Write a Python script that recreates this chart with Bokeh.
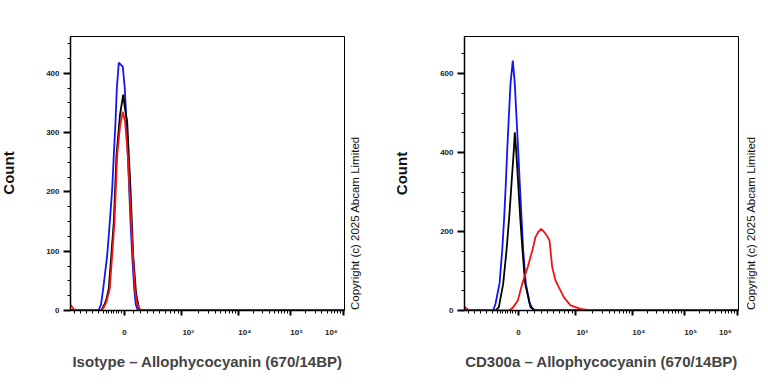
import math
from bokeh.plotting import figure
from bokeh.models import FixedTicker, Range1d
from bokeh.layouts import row
from bokeh.core.properties import value
from bokeh.embed import file_html
from bokeh.resources import INLINE

# ---- data: x in display channels of the biexponential axis, y = Count ----
iso_blue_x = [0, 28, 30.5, 32.7, 36.7, 39.3, 41.7, 43.3, 45, 46.3, 48.3, 50.5, 52.3, 54.3, 56, 57.3, 58.7, 60, 61.7, 63.7, 65.3, 67.5, 274]
iso_blue_y = [0, 0, 10, 37, 93, 149, 205, 262, 318, 374, 418, 414, 411, 374, 318, 262, 205, 149, 93, 37, 10, 0, 0]

iso_black_x = [0, 31, 33.3, 35.8, 38.3, 43.3, 46, 49.5, 52.7, 54.5, 56.7, 60, 62.7, 65.5, 68.3, 70, 274]
iso_black_y = [0, 0, 8, 18, 37, 149, 262, 330, 364, 340, 318, 205, 93, 30, 5, 0, 0]

iso_red_x = [0, 2, 4.5, 31, 33.3, 36, 39.3, 44, 46.7, 49.5, 52.3, 54.5, 57.3, 60.7, 64.3, 66.5, 70, 274]
iso_red_y = [9, 5, 0, 0, 5, 15, 37, 149, 262, 310, 335, 320, 262, 149, 37, 12, 0, 0]

cd_blue_x = [0, 28.7, 31, 35, 37.7, 39.7, 41.3, 42.7, 44.3, 46, 48.3, 50.3, 52, 53.7, 55.3, 57, 58.7, 61.3, 65.3, 69.3, 274]
cd_blue_y = [0, 0, 17, 68, 152, 236, 321, 405, 489, 574, 633, 574, 489, 405, 321, 236, 152, 68, 17, 0, 0]

cd_black_x = [0, 31, 34.3, 38.7, 42, 44.7, 47, 49.3, 50.3, 51.7, 53.7, 55.7, 58, 60.7, 66, 71, 274]
cd_black_y = [0, 0, 8, 68, 152, 236, 321, 405, 451, 405, 321, 236, 152, 68, 8, 0, 0]

cd_red_x = [0, 2, 4.5, 44, 48, 53.3, 57.7, 63.5, 68, 71, 74, 76.7, 80, 83, 85, 87.7, 91, 94.3, 99.3, 106, 116, 126, 274]
cd_red_y = [9, 5, 0, 0, 6, 25, 68, 112, 154, 186, 200, 207, 198, 187, 177, 110, 76, 59, 34, 13, 4, 0, 0]

# ---- axis definitions ----
x_major = [54, 111, 167.5, 219.5, 272.5]
x_tick_text = ["0", "10\u00b3", "10\u2074", "10\u2075", "10\u2076"]
x_minor_low = [4, 10, 16, 22, 28, 33, 35.5, 38, 40.5, 43, 45.5, 48, 50.5,
               63, 70, 77, 83, 89, 95, 100, 104, 107.5]
COPYRIGHT = "Copyright (c) 2025 Abcam Limited"
Y_TITLE = "Count"

BLUE = "#1414f0"
BLACK = "#000000"
RED = "#f01414"
FONT = "Liberation Sans"
NB = "\u00a0"
H = 384
TOP = 36
FRAME_H = 274


def x_minor_ticks():
    ticks = list(x_minor_low)
    for a, b in zip(x_major[1:-1], x_major[2:]):
        for k in range(2, 10):
            ticks.append(a + (b - a) * math.log10(k))
    return ticks


def x_overrides():
    pads = [(0, 0), (6, 0), (6, 0), (6, 0), (0, 4)]
    return {t: NB * a + s + NB * b for t, s, (a, b) in zip(x_major, x_tick_text, pads)}


def make_panel(title, ymax, ymajor, yminor, curves):
    p = figure(width=50 + 274 + 2, height=H,
               x_range=Range1d(0, 274), y_range=Range1d(0, ymax),
               output_backend="svg", toolbar_location=None,
               min_border_left=50, min_border_right=2,
               min_border_top=TOP, min_border_bottom=H - TOP - FRAME_H)
    p.grid.visible = False
    p.outline_line_color = "black"
    p.outline_line_width = 1
    p.background_fill_color = "white"

    for xs, ys, c in curves:
        p.line(xs, ys, line_color=c, line_width=1.8)

    ya = p.yaxis[0]
    ya.ticker = FixedTicker(ticks=ymajor, minor_ticks=yminor)
    ya.axis_line_width = 1.5
    ya.major_tick_line_width = 2
    ya.major_tick_out = 7
    ya.major_tick_in = 0
    ya.minor_tick_out = 3
    ya.minor_tick_in = 0
    ya.minor_tick_line_width = 1
    ya.major_label_text_font = FONT
    ya.major_label_text_font_style = "bold"
    ya.major_label_text_font_size = "8px"
    ya.major_label_text_color = "#222222"
    ya.major_label_standoff = 4

    xa = p.xaxis[0]
    xa.ticker = FixedTicker(ticks=x_major, minor_ticks=x_minor_ticks())
    xa.major_label_overrides = x_overrides()
    xa.axis_line_width = 1.5
    xa.major_tick_line_width = 2
    xa.major_tick_out = 5
    xa.major_tick_in = 0
    xa.minor_tick_out = 3
    xa.minor_tick_in = 0
    xa.minor_tick_line_width = 1
    xa.major_label_standoff = 12
    xa.major_label_text_font = FONT
    xa.major_label_text_font_style = "bold"
    xa.major_label_text_font_size = "8px"
    xa.major_label_text_color = "#222222"
    xa.axis_label = title
    xa.axis_label_text_font = FONT
    xa.axis_label_text_font_style = "bold"
    xa.axis_label_text_font_size = "15px"
    xa.axis_label_standoff = 13
    return p


def make_side(w, xpos, ypos, txt, size, style, align):
    # frame of this strip is aligned with the panels' frames (page y TOP..TOP+FRAME_H);
    # y range is set so that a y value equals H - page_y
    c = figure(width=w, height=H, x_range=Range1d(0, w),
               y_range=Range1d(H - TOP - FRAME_H, H - TOP),
               output_backend="svg", toolbar_location=None,
               x_axis_type=None, y_axis_type=None,
               min_border_left=0, min_border_right=0,
               min_border_top=TOP, min_border_bottom=H - TOP - FRAME_H)
    c.grid.visible = False
    c.outline_line_color = None
    c.text(x=[xpos], y=[H - ypos], text=[txt], angle=math.pi / 2,
           text_align=align, text_baseline="middle",
           text_font=value(FONT), text_font_size=size, text_font_style=style,
           text_color="#111111")
    return c


cnt1 = make_side(20, 7.5, 172.5, Y_TITLE, "15px", "bold", "center")
p1 = make_panel("Isotype \u2013 Allophycocyanin (670/14BP)", 462,
                [0, 100, 200, 300, 400], [v for v in range(25, 475, 25)],
                [(iso_blue_x, iso_blue_y, BLUE), (iso_black_x, iso_black_y, BLACK), (iso_red_x, iso_red_y, RED)])
cr1 = make_side(38, 8.5, 309.5, COPYRIGHT, "11.5px", "normal", "left")
cnt2 = make_side(30, 16.7, 173, Y_TITLE, "15px", "bold", "center")
p2 = make_panel("CD300a \u2013 Allophycocyanin (670/14BP)", 694,
                [0, 200, 400, 600], [v for v in range(50, 700, 50)],
                [(cd_blue_x, cd_blue_y, BLUE), (cd_black_x, cd_black_y, BLACK), (cd_red_x, cd_red_y, RED)])
cr2 = make_side(28, 10, 309.5, COPYRIGHT, "11.5px", "normal", "left")

layout = row(cnt1, p1, cr1, cnt2, p2, cr2)
open("out.html", "w").write(file_html(layout, INLINE))
